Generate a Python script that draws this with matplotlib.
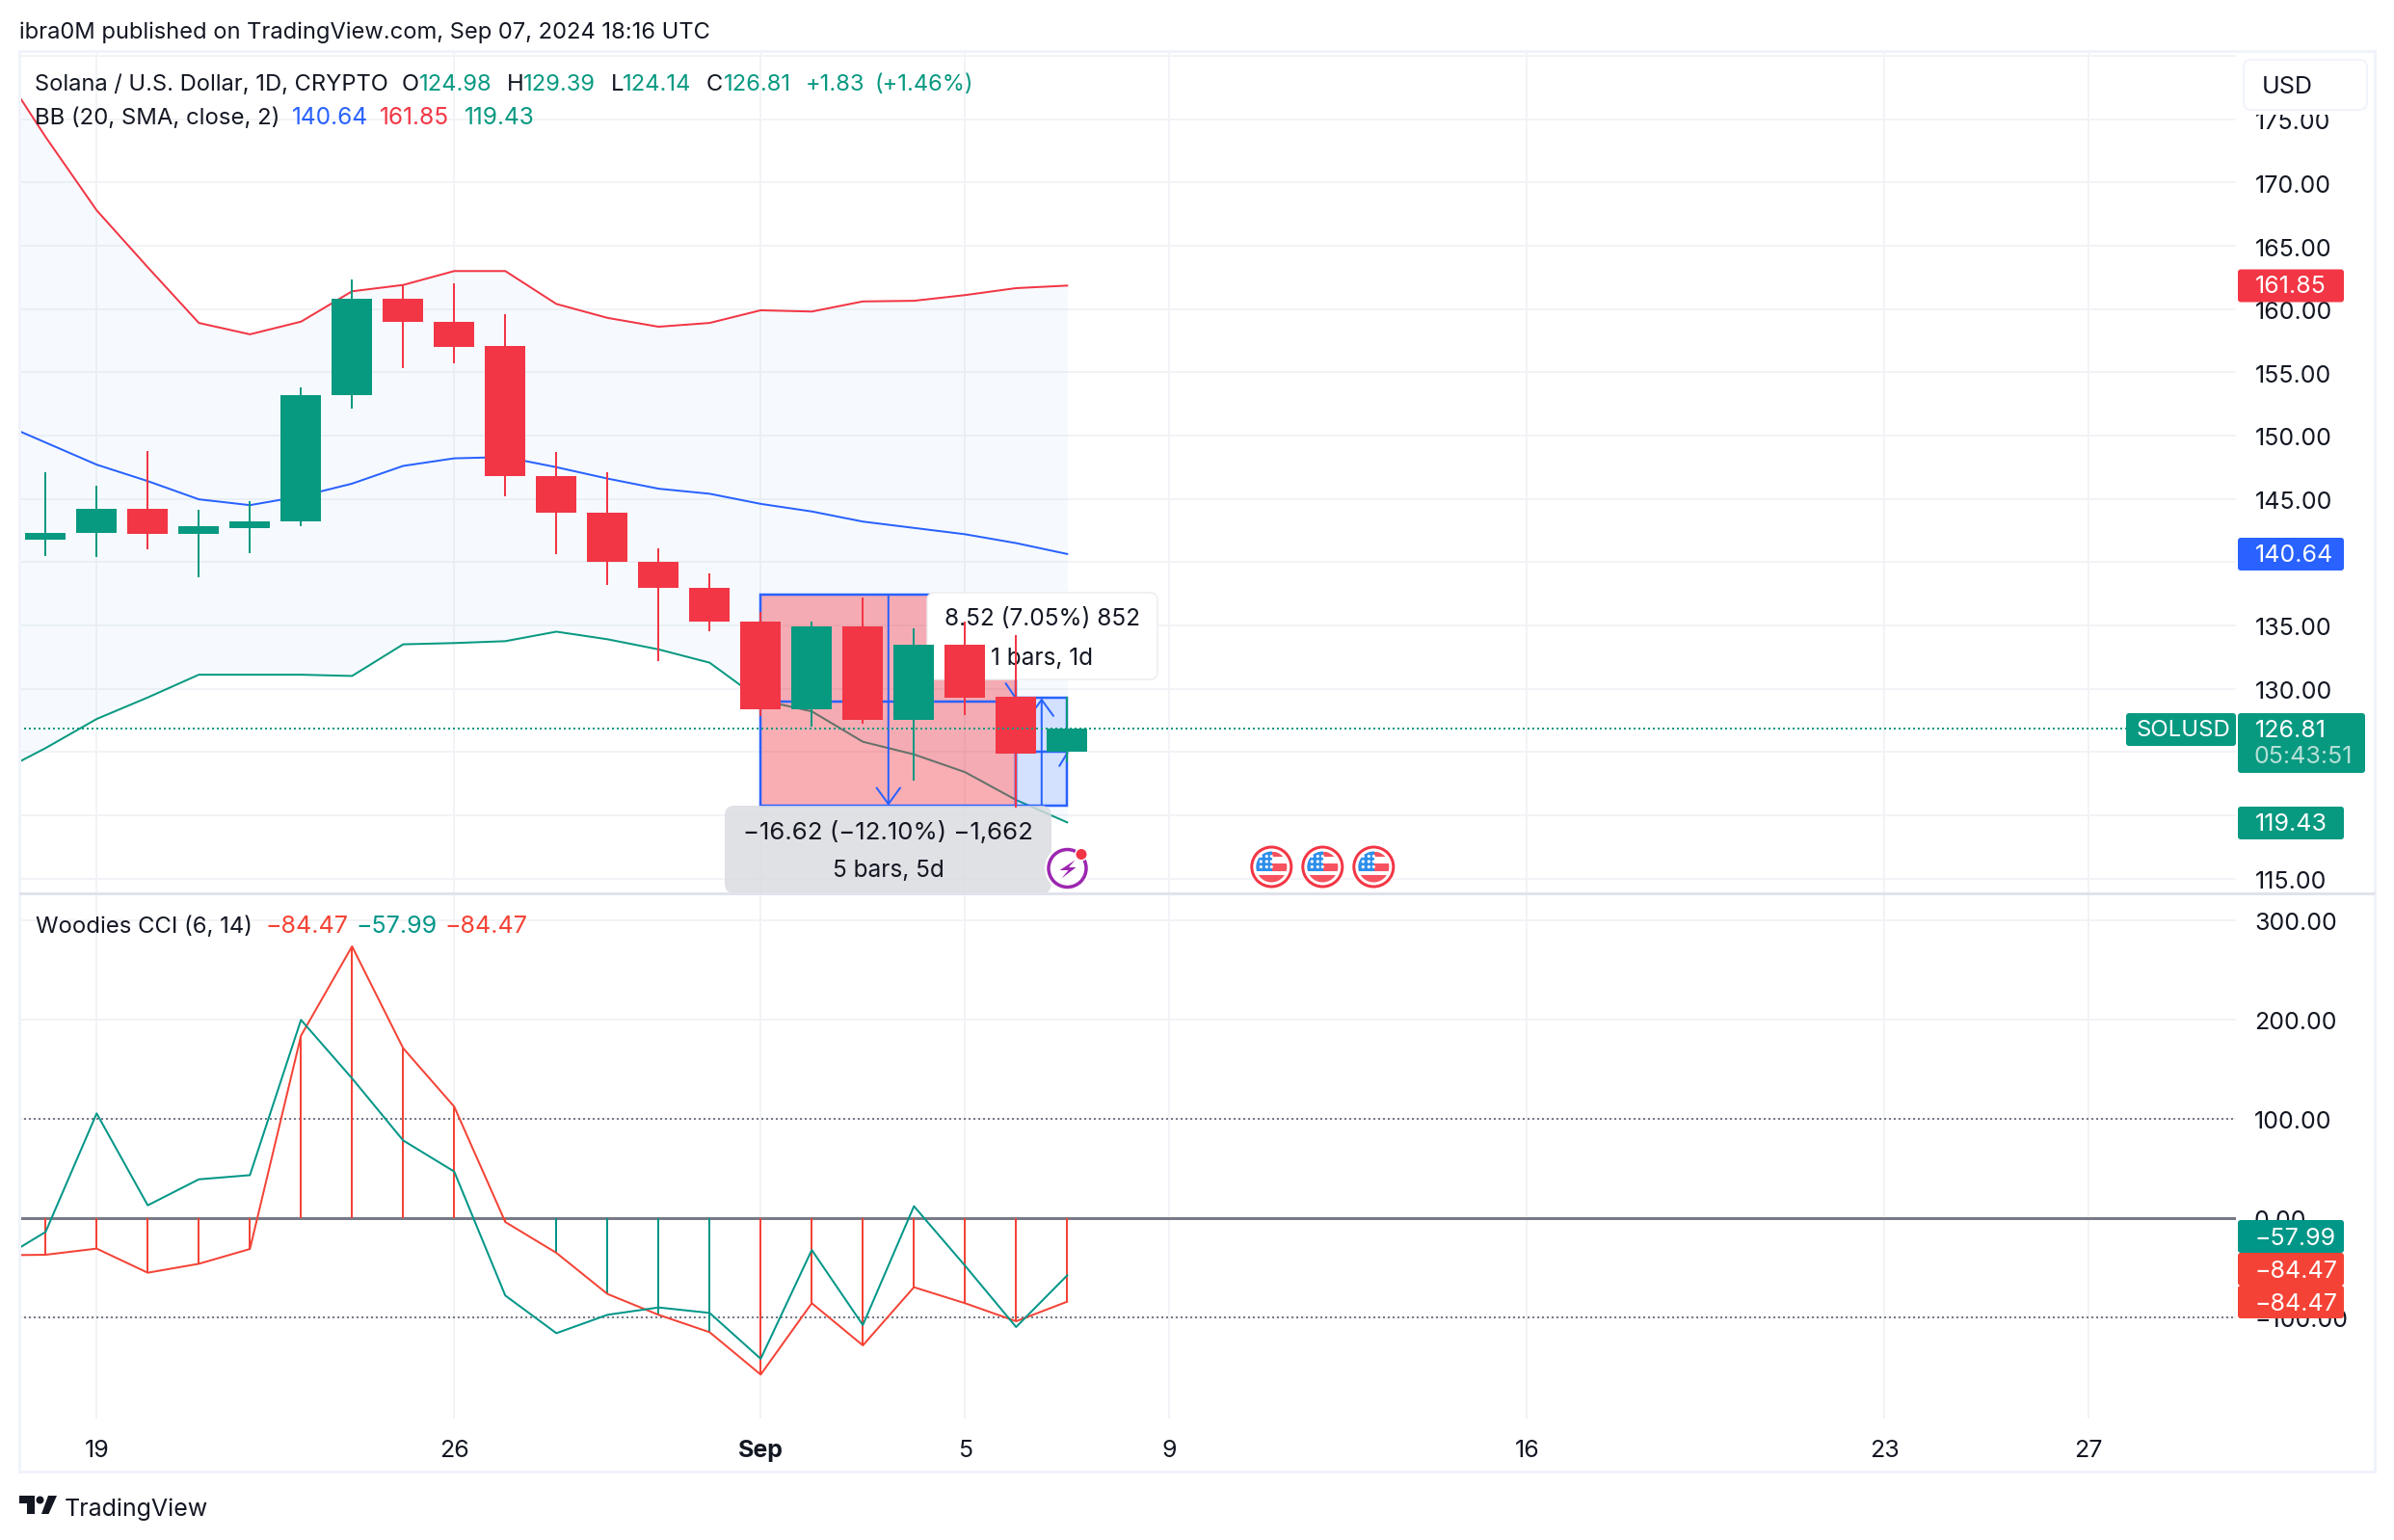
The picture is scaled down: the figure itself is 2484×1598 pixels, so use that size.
import matplotlib
matplotlib.use("Agg")
import matplotlib.pyplot as plt
from matplotlib.patches import FancyBboxPatch, Rectangle, Circle, Polygon
from matplotlib.transforms import Affine2D
from matplotlib.ticker import FixedLocator, FuncFormatter

plt.rcParams['font.family'] = ['Inter', 'DejaVu Sans']

# ---------------- data ----------------
candle_idx = list(range(-1, 20))
opens  = [141.8, 142.3, 144.2, 142.2, 142.7, 143.2, 153.2, 160.8, 159.0, 157.1, 146.8, 143.9, 140.0, 138.0, 135.3, 128.4, 134.9, 127.5, 133.5, 129.35, 124.98]
highs  = [147.1, 146.05, 148.8, 144.1, 144.8, 153.8, 162.3, 161.9, 162.0, 159.6, 148.7, 147.1, 141.1, 139.1, 136.05, 135.3, 137.2, 134.8, 135.3, 134.2, 129.39]
lows   = [140.5, 140.4, 141.0, 138.8, 140.7, 142.8, 152.1, 155.3, 155.7, 145.2, 140.6, 138.2, 132.2, 134.5, 127.8, 127.0, 127.2, 122.7, 127.9, 120.6, 124.14]
closes = [142.3, 144.2, 142.2, 142.8, 143.2, 153.2, 160.8, 159.0, 157.0, 146.8, 143.9, 140.0, 138.0, 135.3, 128.4, 134.9, 127.5, 133.5, 129.3, 124.9, 126.81]

ind_idx = list(range(-2, 20))
bb_upper = [179.8, 173.6, 167.8, 163.3, 158.9, 158.0, 159.0, 161.4, 161.9, 163.0, 163.0, 160.4, 159.3, 158.6, 158.9, 159.9, 159.8, 160.6, 160.65, 161.1, 161.65, 161.85]
bb_basis = [151.2, 149.45, 147.7, 146.4, 144.96, 144.5, 145.2, 146.2, 147.6, 148.2, 148.3, 147.5, 146.6, 145.8, 145.4, 144.6, 144.0, 143.2, 142.7, 142.2, 141.5, 140.64]
bb_lower = [123.2, 125.3, 127.6, 129.3, 131.1, 131.1, 131.1, 131.0, 133.5, 133.6, 133.75, 134.5, 133.9, 133.1, 132.05, 129.1, 128.2, 125.8, 124.8, 123.4, 121.2, 119.43]

cci_long  = [-37.8, -37.2, -31.0, -55.3, -46.3, -31.4, 183.5, 273.5, 170.9, 112.0, -4.2, -35.3, -76.7, -97.7, -115.2, -157.9, -86.0, -128.5, -69.9, -86.0, -104.2, -84.47]
cci_turbo = [-45.4, -14.2, 105.2, 12.6, 38.8, 43.0, 199.4, 140.5, 78.0, 46.6, -78.3, -116.2, -97.7, -90.3, -95.8, -142.0, -32.4, -108.0, 11.7, -48.2, -110.0, -57.99]
hist_teal = [False]*10 + [False, True, True, True, True] + [False]*7

price_ticks = [115, 120, 125, 130, 135, 140, 145, 150, 155, 160, 165, 170, 175, 180]
price_labels_hidden = [120, 125, 140, 180]
cci_ticks = [300, 200, 100, 0, -100]
date_ticks = [0, 7, 13, 17, 21, 28, 35, 39]
date_labels = ['19', '26', 'Sep', '5', '9', '16', '23', '27']
event_idx_flags = [23, 24, 25]

range_down = dict(x0=13, x1=18, top=137.4, bottom=120.75)
range_up = dict(x0=18, x1=19, top=129.25, bottom=120.75)

# ---------------- colours ----------------
UP = '#089981'; DOWN = '#F23645'; BLUE = '#2962FF'
CCI_RED = '#F44336'; CCI_TEAL = '#009688'
GRID = '#F2F3F6'; INK = '#131722'; GREY = '#787B86'

W, H = 2484, 1598
DPI = 100
PX = 72 / DPI
fig = plt.figure(figsize=(W / DPI, H / DPI), dpi=DPI, facecolor='white')

L, R, T, M, B = 20, 2320, 53, 927, 1472
def axes_px(top, bottom):
    return fig.add_axes([L / W, 1 - bottom / H, (R - L) / W, (bottom - top) / H])

ax = axes_px(T, M)
cx = axes_px(M, B)
pix = Affine2D().scale(1, -1).translate(0, H)

XL = (L - 100.3) / 53
XR = (R - 100.3) / 53
for a in (ax, cx):
    a.set_xlim(XL, XR)
    for s in a.spines.values():
        s.set_visible(False)
    a.set_axisbelow(True)
    a.grid(True, color=GRID, lw=2 * PX, zorder=0.5)
    a.yaxis.tick_right()
    a.tick_params(axis='both', length=0, labelcolor=INK)
    a.xaxis.set_major_locator(FixedLocator(date_ticks))

ax.set_ylim(175 - (M - 123.7) / 13.13, 175 + (123.7 - T) / 13.13)
cx.set_ylim((1263.7 - B) / 1.03, (1263.7 - M) / 1.03)

ax.yaxis.set_major_locator(FixedLocator(price_ticks))
ax.yaxis.set_major_formatter(FuncFormatter(lambda v, p: '' if round(v) in price_labels_hidden else f'{v:.2f}'))
cx.yaxis.set_major_locator(FixedLocator(cci_ticks))
cx.yaxis.set_major_formatter(FuncFormatter(lambda v, p: f'{v:.2f}'.replace('-', '\u2212')))
ax.tick_params(axis='y', pad=20 * PX, labelsize=25 * PX)
cx.tick_params(axis='y', pad=19 * PX, labelsize=25 * PX)
ax.tick_params(axis='x', labelbottom=False)
cx.set_xticks(date_ticks)
cx.set_xticklabels(date_labels)
cx.tick_params(axis='x', pad=22 * PX, labelsize=25 * PX)
for lab in cx.get_xticklabels():
    if lab.get_text() == 'Sep':
        lab.set_fontweight('bold')
for a in (ax, cx):
    for tick in a.yaxis.get_major_ticks():
        tick.label2.set_transform(tick.label2.get_transform() + Affine2D().translate(0, -1.5))

# ---------------- price pane ----------------
ax.fill_between(ind_idx, bb_lower, bb_upper, color='#2196F3', alpha=0.04, lw=0, zorder=1)
ax.plot(ind_idx, bb_upper, color=DOWN, lw=2 * PX, zorder=2)
ax.plot(ind_idx, bb_basis, color=BLUE, lw=2 * PX, zorder=2)
ax.plot(ind_idx, bb_lower, color=UP, lw=2 * PX, zorder=2)

def range_box(b, fc, alpha):
    ax.add_patch(Rectangle((b['x0'], b['bottom']), b['x1'] - b['x0'], b['top'] - b['bottom'],
                           fc=fc, alpha=alpha, lw=0, zorder=3))
    ax.add_patch(Rectangle((b['x0'], b['bottom']), b['x1'] - b['x0'], b['top'] - b['bottom'],
                           fc='none', ec=BLUE, lw=2.5 * PX, zorder=3.1))

range_box(range_down, DOWN, 0.40)
range_box(range_up, BLUE, 0.17)
ax.plot([13, 18], [129.0, 129.0], color=BLUE, lw=2.5 * PX, zorder=3.1)
ax.plot([18, 19], [125.0, 125.0], color=BLUE, lw=2.5 * PX, zorder=3.1)
ax.plot([17.8, 18.0], [130.4, 129.2], color=BLUE, lw=2 * PX, zorder=3.1)
ax.plot([18.85, 19.0], [123.9, 124.9], color=BLUE, lw=2 * PX, zorder=3.1)
for x_, a_, b_ in [(15.5, range_down['top'], range_down['bottom']),
                   (18.5, range_up['bottom'], range_up['top'])]:
    ax.annotate('', xy=(x_, b_), xytext=(x_, a_), zorder=3.2,
                arrowprops=dict(arrowstyle='->,head_length=0.55,head_width=0.4', color=BLUE,
                                lw=2 * PX, shrinkA=0, shrinkB=0, mutation_scale=22))

# tooltips (under the candles)
ax.add_patch(FancyBboxPatch((966, 619), 231, 82, boxstyle='round,pad=4,rounding_size=8',
                            transform=pix, fc='white', ec='#ECEDF1', lw=1.5 * PX, zorder=4))
ax.add_patch(FancyBboxPatch((756, 840), 331, 83, boxstyle='round,pad=4,rounding_size=10',
                            transform=pix, fc='#DADBE0', ec='none', alpha=0.82, zorder=4))
for s, px_, py_, sz in [('8.52 (7.05%) 852', 1081, 643, 24.4), ('1 bars, 1d', 1081, 683, 24.4),
                        ('\u221216.62 (\u221212.10%) \u22121,662', 921.5, 864, 25.8), ('5 bars, 5d', 921.5, 904, 24.4)]:
    ax.text(px_, py_, s, transform=pix, ha='center', va='center', fontsize=sz * PX, color=INK, zorder=4.5)

# candles
c_col = [UP if c >= o else DOWN for o, c in zip(opens, closes)]
ax.vlines(candle_idx, lows, highs, colors=c_col, lw=2 * PX, zorder=6)
ax.bar(candle_idx, [abs(c - o) for o, c in zip(opens, closes)],
       bottom=[min(o, c) for o, c in zip(opens, closes)],
       width=0.79, color=c_col, lw=0, zorder=6.1)
ax.axhline(closes[-1], color=UP, lw=2 * PX, ls=(0, (1, 1.5)), zorder=7)

# ---------------- CCI pane ----------------
cx.vlines(ind_idx[1:], 0, cci_long[1:],
          colors=[CCI_TEAL if t else CCI_RED for t in hist_teal[1:]], lw=2 * PX, zorder=2)
cx.axhline(0, color=GREY, lw=3 * PX, zorder=1.8)
for lv in (100, -100):
    cx.axhline(lv, color=GREY, lw=2 * PX, ls=(0, (1, 1.5)), zorder=1.5)
cx.plot(ind_idx, cci_long, color=CCI_RED, lw=2 * PX, zorder=3)
cx.plot(ind_idx, cci_turbo, color=CCI_TEAL, lw=2 * PX, zorder=3.1)

# ---------------- overlay chrome ----------------
ov = fig.add_axes([0, 0, 1, 1], zorder=20)
ov.set_xlim(0, W); ov.set_ylim(H, 0); ov.axis('off'); ov.patch.set_alpha(0)

def tx(x, y, s, c=INK, size=25, **kw):
    kw.setdefault('va', 'center'); kw.setdefault('ha', 'left')
    ov.text(x, y + 2.5, s, color=c, fontsize=size * PX, **kw)

tx(20, 31.5, 'ibra0M published on TradingView.com, Sep 07, 2024 18:16 UTC', size=23.7)

for x, s, c in [(36, 'Solana / U.S. Dollar, 1D, CRYPTO', INK), (417, 'O', INK), (435, '124.98', UP),
                (526, 'H', INK), (543, '129.39', UP), (634, 'L', INK), (646, '124.14', UP),
                (733, 'C', INK), (751, '126.81', UP), (836, '+1.83', UP), (907, '(+1.46%)', UP)]:
    tx(x, 85.5, s, c, size=23.7)
for x, s, c, sz in [(36, 'BB (20, SMA, close, 2)', INK, 23.9), (303, '140.64', BLUE, 24.5),
                    (394, '161.85', DOWN, 24.5), (482, '119.43', UP, 24.5)]:
    tx(x, 120, s, c, size=sz)
for x, s, c, sz in [(37, 'Woodies CCI (6, 14)', INK, 23.9), (275, '\u221284.47', CCI_RED, 25),
                    (369, '\u221257.99', CCI_TEAL, 25), (461, '\u221284.47', CCI_RED, 25)]:
    tx(x, 959, s, c, size=sz)

def tag(x0, y0, x1, y1, fc):
    ov.add_patch(FancyBboxPatch((x0, y0), x1 - x0, y1 - y0, boxstyle='round,pad=0,rounding_size=3',
                                fc=fc, ec='none'))

# USD box
ov.add_patch(Rectangle((2324, 58), 136, 61, fc='white', ec='none'))
ov.add_patch(FancyBboxPatch((2328, 62), 128, 52, boxstyle='round,pad=0,rounding_size=8',
                            fc='white', ec='#F0F3FA', lw=2 * PX))
tx(2347, 88, 'USD')

tag(2322, 279.5, 2432, 313.5, DOWN); tx(2340, 295.5, '161.85', 'white')
tag(2322, 558, 2432, 592, BLUE); tx(2340, 574, '140.64', 'white')
tag(2206, 740, 2320, 774, UP); tx(2216, 756, 'SOLUSD', 'white', size=24)
tag(2322, 740, 2454, 802, UP); tx(2340, 756, '126.81', 'white'); tx(2339, 783.5, '05:43:51', '#B5E0D6')
tag(2322, 837, 2432, 871, UP); tx(2340, 853.5, '119.43', 'white')
tag(2322, 1266, 2432, 1300, CCI_TEAL); tx(2339, 1282.5, '\u221257.99', 'white')
tag(2322, 1300, 2432, 1334, CCI_RED); tx(2339, 1316.5, '\u221284.47', 'white')
tag(2322, 1334, 2432, 1368, CCI_RED); tx(2339, 1350.5, '\u221284.47', 'white')

# frame
ov.add_patch(Rectangle((20, 53), 2444, 1474, fc='none', ec='#F0F3FA', lw=3 * PX))
ov.plot([20, 2464], [927, 927], color='#E0E3EB', lw=3 * PX, solid_capstyle='butt')

# lightning event
ex, ey = 1107.5, 901
ov.add_patch(Circle((ex, ey), 23.5, fc='white', ec='none'))
ov.add_patch(Circle((ex, ey), 19.5, fc='white', ec='#9C27B0', lw=3.5 * PX))
ov.add_patch(Circle((1122, 886.5), 7, fc='white', ec='none'))
ov.add_patch(Circle((1122, 886.5), 5.5, fc=DOWN, ec='none'))
ov.add_patch(Polygon([(ex + 8, ey - 8.5), (ex - 8, ey + 2), (ex + 1, ey + 2), (ex - 6, ey + 10.5),
                      (ex + 9, ey - 1), (ex + 1.5, ey - 1)], fc='#9C27B0', ec='none'))

# US event flags
for i in event_idx_flags:
    fx = 100.3 + i * 53
    fy = 899.5
    ov.add_patch(Circle((fx, fy), 23, fc='white', ec='none'))
    ov.add_patch(Circle((fx, fy), 20.5, fc='white', ec=DOWN, lw=3 * PX))
    clip = Circle((fx, fy), 16, transform=ov.transData)
    shapes = [Rectangle((fx, fy - 16), 17, 5, fc='#F7525F', ec='none'),
              Rectangle((fx, fy - 4), 17, 8, fc='#F7525F', ec='none'),
              Rectangle((fx - 17, fy + 8), 34, 9, fc='#F7525F', ec='none'),
              Rectangle((fx - 17, fy - 17), 18, 21, fc='#2E8FEA', ec='none')]
    for sh in shapes:
        ov.add_patch(sh)
        sh.set_clip_path(clip)
    for dx in (-11, -5, 0):
        for dy in (-11, -5.5, 0):
            ov.add_patch(Circle((fx + dx, fy + dy), 1.6, fc='white', ec='none'))

# TradingView logo
ov.add_patch(Polygon([(20, 1552), (36, 1552), (36, 1571), (27.5, 1571), (27.5, 1560), (20, 1560)],
                     fc=INK, ec='none'))
ov.add_patch(Circle((41.5, 1556.5), 4, fc=INK, ec='none'))
ov.add_patch(Polygon([(43, 1571), (50.5, 1571), (59, 1552), (50, 1552)], fc=INK, ec='none'))
tx(67, 1564, 'TradingView', size=25)

fig.savefig('out.png', dpi=DPI, facecolor='white')
